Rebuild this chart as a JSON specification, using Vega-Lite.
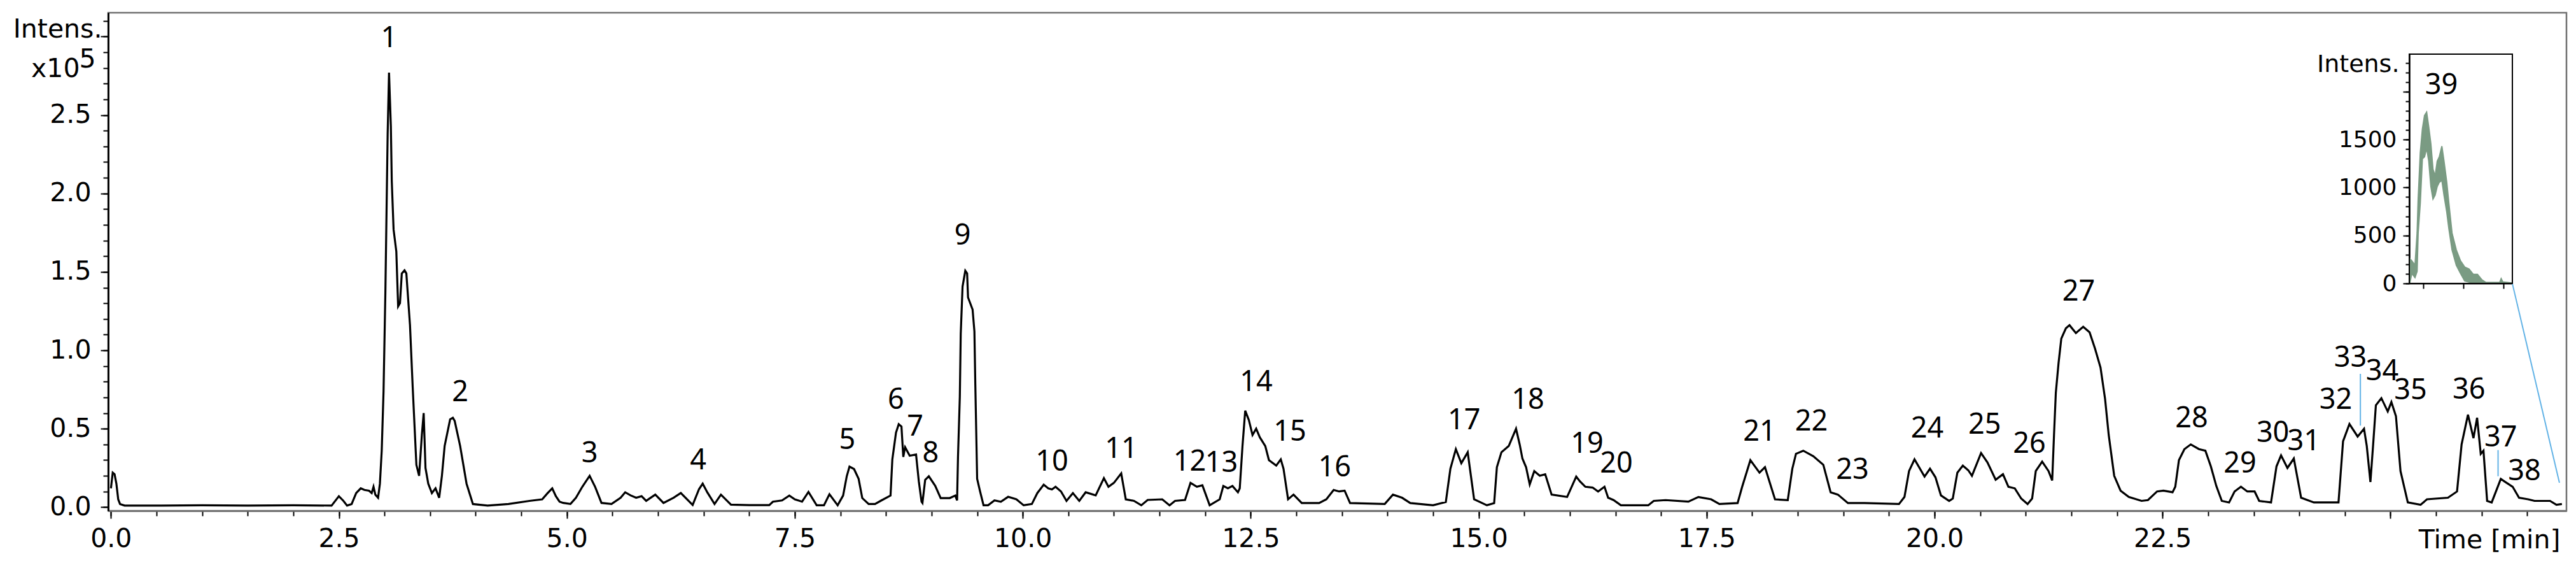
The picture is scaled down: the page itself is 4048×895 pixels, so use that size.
{
  "$schema": "https://vega.github.io/schema/vega-lite/v6.json",
  "width": 3863,
  "height": 782,
  "autosize": {"type": "none"},
  "padding": {"left": 170, "top": 20, "right": 15, "bottom": 93},
  "background": "white",
  "config": {"view": {"stroke": "#707070", "strokeWidth": 2.5}},
  "datasets": {
    "trace": [
      {"t":0.0,"v":0.12},{"t":0.02,"v":0.22},{"t":0.04,"v":0.21},{"t":0.06,"v":0.15},{"t":0.08,"v":0.05},{"t":0.1,"v":0.02},{"t":0.15,"v":0.01},{"t":0.5,"v":0.01},{"t":1.0,"v":0.012},{"t":1.5,"v":0.01},{"t":2.0,"v":0.012},{"t":2.42,"v":0.01},
      {"t":2.5,"v":0.07},{"t":2.55,"v":0.04},{"t":2.59,"v":0.01},{"t":2.64,"v":0.02},{"t":2.69,"v":0.09},{"t":2.74,"v":0.12},{"t":2.78,"v":0.11},{"t":2.83,"v":0.105},{"t":2.86,"v":0.09},{"t":2.88,"v":0.13},{"t":2.9,"v":0.08},{"t":2.93,"v":0.06},{"t":2.95,"v":0.15},{"t":2.97,"v":0.36},{"t":2.99,"v":0.74},{"t":3.01,"v":1.37},{"t":3.035,"v":2.38},{"t":3.05,"v":2.77},{"t":3.06,"v":2.6},{"t":3.07,"v":2.43},{"t":3.08,"v":2.08},{"t":3.1,"v":1.77},{"t":3.13,"v":1.63},{"t":3.15,"v":1.28},{"t":3.17,"v":1.3},{"t":3.19,"v":1.49},{"t":3.22,"v":1.51},{"t":3.24,"v":1.49},{"t":3.28,"v":1.16},{"t":3.31,"v":0.76},{"t":3.35,"v":0.27},{"t":3.38,"v":0.2},{"t":3.41,"v":0.46},{"t":3.43,"v":0.6},{"t":3.45,"v":0.25},{"t":3.48,"v":0.15},{"t":3.52,"v":0.09},{"t":3.56,"v":0.12},{"t":3.6,"v":0.06},{"t":3.63,"v":0.2},{"t":3.66,"v":0.39},{"t":3.72,"v":0.56},{"t":3.75,"v":0.57},{"t":3.77,"v":0.55},{"t":3.83,"v":0.39},{"t":3.9,"v":0.15},{"t":3.97,"v":0.02},{"t":4.13,"v":0.01},{"t":4.36,"v":0.02},{"t":4.59,"v":0.04},{"t":4.73,"v":0.05},{"t":4.79,"v":0.09},{"t":4.84,"v":0.12},{"t":4.88,"v":0.07},
      {"t":4.92,"v":0.035},{"t":4.96,"v":0.027},{"t":5.04,"v":0.02},{"t":5.1,"v":0.06},{"t":5.17,"v":0.13},{"t":5.25,"v":0.2},{"t":5.31,"v":0.13},{"t":5.38,"v":0.027},{"t":5.49,"v":0.02},{"t":5.59,"v":0.06},{"t":5.64,"v":0.095},{"t":5.7,"v":0.075},{"t":5.76,"v":0.06},{"t":5.82,"v":0.07},{"t":5.87,"v":0.04},{"t":5.97,"v":0.08},{"t":6.06,"v":0.027},{"t":6.17,"v":0.06},{"t":6.25,"v":0.09},{"t":6.38,"v":0.014},{"t":6.45,"v":0.115},{"t":6.49,"v":0.15},{"t":6.54,"v":0.095},{"t":6.62,"v":0.02},{"t":6.69,"v":0.08},{"t":6.8,"v":0.016},{"t":7.0,"v":0.013},{"t":7.22,"v":0.013},
      {"t":7.26,"v":0.035},{"t":7.36,"v":0.043},{"t":7.44,"v":0.074},{"t":7.5,"v":0.05},{"t":7.58,"v":0.035},{"t":7.65,"v":0.097},{"t":7.74,"v":0.012},{"t":7.82,"v":0.012},{"t":7.88,"v":0.082},{"t":7.97,"v":0.012},{"t":8.03,"v":0.074},{"t":8.07,"v":0.197},{"t":8.1,"v":0.259},{"t":8.15,"v":0.243},{"t":8.2,"v":0.181},{"t":8.24,"v":0.058},{"t":8.31,"v":0.02},{"t":8.38,"v":0.02},{"t":8.45,"v":0.043},{"t":8.55,"v":0.074},{"t":8.57,"v":0.305},{"t":8.61,"v":0.475},{"t":8.64,"v":0.529},{"t":8.67,"v":0.514},{"t":8.69,"v":0.32},{"t":8.71,"v":0.382},{"t":8.76,"v":0.328},{"t":8.83,"v":0.336},{"t":8.86,"v":0.166},{"t":8.89,"v":0.035},{"t":8.9,"v":0.027},{"t":8.93,"v":0.174},{"t":8.97,"v":0.197},{"t":9.04,"v":0.136},{"t":9.1,"v":0.058},{"t":9.2,"v":0.058},{"t":9.26,"v":0.074},{"t":9.28,"v":0.043},{"t":9.29,"v":0.32},{"t":9.31,"v":0.705},{"t":9.32,"v":1.106},{"t":9.34,"v":1.406},{"t":9.37,"v":1.507},{"t":9.39,"v":1.49},{"t":9.4,"v":1.337},{"t":9.45,"v":1.26},{"t":9.47,"v":1.12},{"t":9.48,"v":0.78},{"t":9.5,"v":0.181},{"t":9.53,"v":0.105},{"t":9.57,"v":0.012},{"t":9.62,"v":0.012},{"t":9.69,"v":0.043},{"t":9.76,"v":0.035},{"t":9.84,"v":0.066},{"t":9.93,"v":0.05},{"t":10.01,"v":0.012},{"t":10.1,"v":0.02},{"t":10.16,"v":0.09},{"t":10.23,"v":0.143},
      {"t":10.28,"v":0.12},{"t":10.32,"v":0.113},{"t":10.36,"v":0.13},{"t":10.42,"v":0.1},{"t":10.48,"v":0.04},{"t":10.55,"v":0.09},{"t":10.62,"v":0.04},{"t":10.69,"v":0.095},{"t":10.8,"v":0.075},{"t":10.89,"v":0.185},{"t":10.94,"v":0.13},{"t":11.0,"v":0.155},{"t":11.08,"v":0.215},{"t":11.13,"v":0.05},{"t":11.22,"v":0.04},{"t":11.3,"v":0.012},{"t":11.37,"v":0.046},{"t":11.53,"v":0.05},{"t":11.61,"v":0.012},{"t":11.67,"v":0.04},{"t":11.78,"v":0.046},{"t":11.84,"v":0.155},{"t":11.91,"v":0.13},{"t":11.97,"v":0.14},{"t":12.05,"v":0.012},{"t":12.16,"v":0.05},{"t":12.2,"v":0.135},{"t":12.25,"v":0.12},{"t":12.3,"v":0.135},{"t":12.36,"v":0.095},{"t":12.38,"v":0.12},{"t":12.41,"v":0.39},{"t":12.44,"v":0.615},{"t":12.48,"v":0.555},{"t":12.52,"v":0.46},{"t":12.56,"v":0.5},{"t":12.6,"v":0.445},{"t":12.66,"v":0.39},{"t":12.7,"v":0.3},{"t":12.78,"v":0.265},{"t":12.83,"v":0.305},{"t":12.86,"v":0.245},{"t":12.91,"v":0.05},{"t":12.97,"v":0.08},{"t":13.06,"v":0.026},{"t":13.25,"v":0.026},{"t":13.33,"v":0.05},{"t":13.41,"v":0.11},{"t":13.47,"v":0.1},{"t":13.53,"v":0.105},{"t":13.59,"v":0.026},{"t":13.97,"v":0.02},{"t":14.06,"v":0.08},{"t":14.16,"v":0.06},{"t":14.25,"v":0.026},{"t":14.5,"v":0.012},{"t":14.64,"v":0.033},{"t":14.69,"v":0.245},{"t":14.75,"v":0.37},{"t":14.81,"v":0.28},{"t":14.88,"v":0.35},{"t":14.95,"v":0.05},{"t":15.09,"v":0.012},{"t":15.17,"v":0.026},
      {"t":15.2,"v":0.255},{"t":15.25,"v":0.35},{"t":15.33,"v":0.39},{"t":15.41,"v":0.5},{"t":15.45,"v":0.4},{"t":15.48,"v":0.31},{"t":15.52,"v":0.255},{"t":15.56,"v":0.145},{"t":15.61,"v":0.23},{"t":15.67,"v":0.2},{"t":15.73,"v":0.21},{"t":15.8,"v":0.08},{"t":15.97,"v":0.065},{"t":16.02,"v":0.13},{"t":16.07,"v":0.195},{"t":16.11,"v":0.165},{"t":16.17,"v":0.13},{"t":16.25,"v":0.125},{"t":16.31,"v":0.1},{"t":16.38,"v":0.13},{"t":16.42,"v":0.06},{"t":16.48,"v":0.045},{"t":16.56,"v":0.012},{"t":16.86,"v":0.012},{"t":16.92,"v":0.04},{"t":17.05,"v":0.045},{"t":17.3,"v":0.035},{"t":17.41,"v":0.065},{"t":17.55,"v":0.05},{"t":17.64,"v":0.02},{"t":17.84,"v":0.026},{"t":17.89,"v":0.13},{"t":17.98,"v":0.3},{"t":18.08,"v":0.22},{"t":18.14,"v":0.255},{"t":18.25,"v":0.05},{"t":18.39,"v":0.045},{"t":18.44,"v":0.245},{"t":18.48,"v":0.34},{"t":18.56,"v":0.36},{"t":18.67,"v":0.325},{"t":18.78,"v":0.27},{"t":18.86,"v":0.095},{"t":18.94,"v":0.08},{"t":19.05,"v":0.026},{"t":19.23,"v":0.026},{"t":19.61,"v":0.02},{"t":19.67,"v":0.065},{"t":19.72,"v":0.23},{"t":19.78,"v":0.305},{"t":19.89,"v":0.195},{"t":19.95,"v":0.245},{"t":20.01,"v":0.19},{"t":20.07,"v":0.075},
      {"t":20.16,"v":0.04},{"t":20.2,"v":0.055},{"t":20.25,"v":0.22},{"t":20.31,"v":0.265},{"t":20.37,"v":0.235},{"t":20.41,"v":0.2},{"t":20.51,"v":0.345},{"t":20.58,"v":0.285},{"t":20.67,"v":0.175},{"t":20.75,"v":0.21},{"t":20.81,"v":0.13},{"t":20.88,"v":0.12},{"t":20.95,"v":0.055},{"t":21.02,"v":0.02},{"t":21.07,"v":0.055},{"t":21.11,"v":0.23},{"t":21.18,"v":0.29},{"t":21.25,"v":0.23},{"t":21.29,"v":0.17},{"t":21.31,"v":0.46},{"t":21.33,"v":0.73},{"t":21.36,"v":0.92},{"t":21.39,"v":1.075},{"t":21.44,"v":1.14},{"t":21.48,"v":1.16},{"t":21.55,"v":1.11},{"t":21.63,"v":1.15},{"t":21.7,"v":1.115},{"t":21.76,"v":1.01},{"t":21.82,"v":0.89},{"t":21.87,"v":0.69},{"t":21.91,"v":0.46},{"t":21.97,"v":0.2},{"t":22.04,"v":0.105},{"t":22.13,"v":0.065},{"t":22.27,"v":0.04},{"t":22.34,"v":0.045},{"t":22.44,"v":0.1},{"t":22.51,"v":0.105},{"t":22.61,"v":0.095},{"t":22.64,"v":0.13},{"t":22.68,"v":0.3},{"t":22.74,"v":0.37},{"t":22.81,"v":0.4},
      {"t":22.9,"v":0.37},{"t":22.97,"v":0.36},{"t":23.03,"v":0.26},{"t":23.09,"v":0.135},{"t":23.15,"v":0.04},{"t":23.23,"v":0.03},{"t":23.29,"v":0.1},{"t":23.36,"v":0.13},{"t":23.43,"v":0.1},{"t":23.51,"v":0.1},{"t":23.56,"v":0.04},{"t":23.69,"v":0.03},{"t":23.75,"v":0.26},{"t":23.8,"v":0.33},{"t":23.87,"v":0.25},{"t":23.94,"v":0.31},{"t":24.02,"v":0.06},{"t":24.16,"v":0.03},{"t":24.31,"v":0.03},{"t":24.43,"v":0.03},{"t":24.48,"v":0.42},{"t":24.55,"v":0.53},{"t":24.64,"v":0.45},{"t":24.71,"v":0.5},{"t":24.74,"v":0.39},{"t":24.78,"v":0.16},{"t":24.81,"v":0.4},{"t":24.84,"v":0.65},{"t":24.9,"v":0.695},{"t":24.97,"v":0.61},{"t":25.01,"v":0.67},{"t":25.06,"v":0.58},{"t":25.11,"v":0.23},{"t":25.19,"v":0.03},{"t":25.33,"v":0.015},{"t":25.4,"v":0.05},{"t":25.63,"v":0.06},{"t":25.73,"v":0.1},{"t":25.78,"v":0.4},{"t":25.85,"v":0.59},{"t":25.91,"v":0.44},{"t":25.95,"v":0.57},{"t":25.99,"v":0.34},{"t":26.02,"v":0.36},{"t":26.06,"v":0.04},{"t":26.11,"v":0.03},{"t":26.21,"v":0.18},{"t":26.26,"v":0.16},{"t":26.34,"v":0.13},{"t":26.41,"v":0.06},{"t":26.51,"v":0.05},{"t":26.58,"v":0.04},{"t":26.75,"v":0.04},{"t":26.82,"v":0.015},{"t":26.88,"v":0.02}
    ],
    "peaks": [
      {"t":3.05,"v":2.99,"label":"1"},{"t":3.83,"v":0.732,"label":"2"},{"t":5.25,"v":0.343,"label":"3"},{"t":6.44,"v":0.299,"label":"4"},{"t":8.075,"v":0.428,"label":"5"},{"t":8.61,"v":0.684,"label":"6"},{"t":8.82,"v":0.513,"label":"7"},{"t":8.99,"v":0.343,"label":"8"},{"t":9.34,"v":1.731,"label":"9"},{"t":10.32,"v":0.29,"label":"10"},{"t":11.08,"v":0.371,"label":"11"},{"t":11.83,"v":0.29,"label":"12"},{"t":12.18,"v":0.282,"label":"13"},{"t":12.56,"v":0.797,"label":"14"},{"t":12.93,"v":0.481,"label":"15"},{"t":13.42,"v":0.253,"label":"16"},{"t":14.84,"v":0.554,"label":"17"},{"t":15.54,"v":0.684,"label":"18"},{"t":16.19,"v":0.404,"label":"19"},{"t":16.51,"v":0.278,"label":"20"},{"t":18.08,"v":0.481,"label":"21"},{"t":18.65,"v":0.546,"label":"22"},{"t":19.1,"v":0.237,"label":"23"},{"t":19.92,"v":0.501,"label":"24"},{"t":20.55,"v":0.525,"label":"25"},{"t":21.04,"v":0.404,"label":"26"},{"t":21.58,"v":1.374,"label":"27"},{"t":22.82,"v":0.566,"label":"28"},{"t":23.35,"v":0.278,"label":"29"},{"t":23.71,"v":0.473,"label":"30"},{"t":24.05,"v":0.42,"label":"31"},{"t":24.4,"v":0.684,"label":"32"},{"t":24.56,"v":0.952,"label":"33"},{"t":24.91,"v":0.866,"label":"34"},{"t":25.22,"v":0.745,"label":"35"},{"t":25.86,"v":0.749,"label":"36"},{"t":26.21,"v":0.444,"label":"37"},{"t":26.47,"v":0.229,"label":"38"}
    ],
    "guides": [
      {"t":24.67,"v":0.85,"t2":24.67,"v2":0.52},
      {"t":26.18,"v":0.364,"t2":26.18,"v2":0.197},
      {"t":26.336,"v":1.427,"t2":26.853,"v2":0.156}
    ],
    "inset": [
      {"t":26.3657,"hi":260,"lo":0},{"t":26.371,"hi":235,"lo":105},{"t":26.3789,"hi":190,"lo":60},{"t":26.3842,"hi":525,"lo":125},{"t":26.3868,"hi":880,"lo":525},{"t":26.3921,"hi":1360,"lo":835},{"t":26.3974,"hi":1610,"lo":1300},{"t":26.4027,"hi":1750,"lo":1320},{"t":26.408,"hi":1785,"lo":1410},{"t":26.4133,"hi":1630,"lo":1275},{"t":26.4186,"hi":1455,"lo":1010},{"t":26.4239,"hi":1190,"lo":880},{"t":26.4292,"hi":1120,"lo":920},{"t":26.4345,"hi":1275,"lo":1010},{"t":26.4397,"hi":1320,"lo":1055},{"t":26.4461,"hi":1430,"lo":1075},{"t":26.4514,"hi":1275,"lo":920},{"t":26.4583,"hi":1055,"lo":745},{"t":26.4636,"hi":835,"lo":570},{"t":26.4715,"hi":525,"lo":350},{"t":26.4821,"hi":350,"lo":190},{"t":26.4927,"hi":235,"lo":105},{"t":26.5032,"hi":170,"lo":25},{"t":26.5138,"hi":150,"lo":15},{"t":26.5244,"hi":95,"lo":5},{"t":26.535,"hi":95,"lo":0},{"t":26.5456,"hi":40,"lo":0},{"t":26.5562,"hi":10,"lo":0},{"t":26.5906,"hi":10,"lo":0},{"t":26.5943,"hi":50,"lo":0},{"t":26.5985,"hi":15,"lo":0},{"t":26.6197,"hi":5,"lo":0}
    ],
    "insetpeak": [{"t":26.445,"i":2062,"label":"39"}]
  },
  "layer": [
    {
      "layer": [
        {
          "data": {"name": "trace"},
          "mark": {"type": "line", "color": "black", "strokeWidth": 3.2, "clip": true},
          "encoding": {
            "x": {
              "field": "t", "type": "quantitative",
              "scale": {"domain": [-0.03, 26.93], "nice": false, "zero": false},
              "axis": {
                "orient": "bottom",
                "values": [0,2.5,5,7.5,10,12.5,15,17.5,20,22.5,25],
                "labelExpr": "datum.value < 24 ? format(datum.value, '.1f') : ''",
                "tickSize": 12, "tickColor": "black", "tickWidth": 2,
                "domainColor": "#707070", "domainWidth": 2.5,
                "grid": false, "labelOverlap": false, "labelFlush": false, "labelBound": false,
                "labelFont": "DejaVu Sans", "labelFontSize": 41, "labelColor": "black", "labelPadding": 12,
                "title": "Time [min]", "titleX": 3853, "titleY": 58, "titleAlign": "right", "titleBaseline": "alphabetic",
                "titleFont": "DejaVu Sans", "titleFontSize": 41, "titleFontWeight": "normal", "titleColor": "black"
              }
            },
            "y": {
              "field": "v", "type": "quantitative",
              "scale": {"domain": [-0.023, 3.152], "nice": false, "zero": false},
              "axis": {
                "orient": "left",
                "values": [0,0.5,1,1.5,2,2.5,3],
                "labelExpr": "datum.value < 2.9 ? format(datum.value, '.1f') : ''",
                "tickSize": 12, "tickColor": "black", "tickWidth": 2,
                "domainColor": "black", "domainWidth": 2.5,
                "grid": false, "labelOverlap": false, "labelFlush": false, "labelBound": false,
                "labelFont": "DejaVu Sans", "labelFontSize": 41, "labelColor": "black", "labelPadding": 15,
                "title": "Intens.", "titleAngle": 0, "titleAlign": "right", "titleBaseline": "middle",
                "titleX": -10, "titleY": 26,
                "titleFont": "DejaVu Sans", "titleFontSize": 41, "titleFontWeight": "normal", "titleColor": "black"
              }
            }
          }
        },
        {
          "data": {"name": "guides"},
          "mark": {"type": "rule", "color": "#63b3e6", "strokeWidth": 2},
          "encoding": {
            "x": {
              "field": "t", "type": "quantitative",
              "axis": {
                "orient": "bottom",
                "values": [0,0.5,1,1.5,2,2.5,3,3.5,4,4.5,5,5.5,6,6.5,7,7.5,8,8.5,9,9.5,10,10.5,11,11.5,12,12.5,13,13.5,14,14.5,15,15.5,16,16.5,17,17.5,18,18.5,19,19.5,20,20.5,21,21.5,22,22.5,23,23.5,24,24.5,25,25.5,26,26.5],
                "labels": false, "tickSize": 8, "tickColor": "black", "tickWidth": 2,
                "domainColor": "#707070", "domainWidth": 2.5, "grid": false, "title": null
              }
            },
            "y": {
              "field": "v", "type": "quantitative",
              "axis": {
                "orient": "left",
                "values": [0,0.1,0.2,0.3,0.4,0.5,0.6,0.7,0.8,0.9,1,1.1,1.2,1.3,1.4,1.5,1.6,1.7,1.8,1.9,2,2.1,2.2,2.3,2.4,2.5,2.6,2.7,2.8,2.9,3,3.1],
                "labels": false, "tickSize": 8, "tickColor": "black", "tickWidth": 2,
                "domainColor": "black", "domainWidth": 2.5, "grid": false,
                "title": "x10", "titleAngle": 0, "titleAlign": "right", "titleBaseline": "middle",
                "titleX": -45, "titleY": 88,
                "titleFont": "DejaVu Sans", "titleFontSize": 41, "titleFontWeight": "normal", "titleColor": "black"
              }
            },
            "x2": {"field": "t2"},
            "y2": {"field": "v2"}
          }
        },
        {
          "data": {"name": "peaks"},
          "mark": {"type": "text", "font": "Noto Sans", "fontSize": 45, "color": "black", "align": "center", "baseline": "middle"},
          "encoding": {
            "x": {"field": "t", "type": "quantitative", "axis": null},
            "y": {
              "field": "v", "type": "quantitative",
              "axis": {
                "orient": "left", "domain": false, "ticks": false, "labels": false, "grid": false,
                "title": "5", "titleAngle": 0, "titleAlign": "left", "titleBaseline": "middle",
                "titleX": -46, "titleY": 73,
                "titleFont": "DejaVu Sans", "titleFontSize": 41, "titleFontWeight": "normal", "titleColor": "black"
              }
            },
            "text": {"field": "label"}
          }
        }
      ],
      "resolve": {"axis": {"x": "independent", "y": "independent"}}
    },
    {
      "layer": [
        {
          "data": {"name": "inset"},
          "mark": {"type": "area", "color": "#7a9b83", "stroke": "#7a9b83", "strokeWidth": 2, "opacity": 1},
          "encoding": {
            "x": {
              "field": "t", "type": "quantitative",
              "scale": {"domain": [26.3646, 26.6223], "range": [3616, 3778], "nice": false, "zero": false},
              "axis": {
                "orient": "bottom", "offset": -357,
                "values": [26.4, 26.5, 26.6], "labels": false, "tickSize": 8, "tickColor": "black", "tickWidth": 2,
                "domainColor": "black", "domainWidth": 2, "grid": false, "title": null
              }
            },
            "y": {
              "field": "hi", "type": "quantitative",
              "scale": {"domain": [0, 2390], "range": [425, 65], "nice": false, "zero": false},
              "axis": {
                "orient": "left", "offset": -3616,
                "values": [0, 500, 1000, 1500, 2000],
                "labelExpr": "datum.value < 1900 ? format(datum.value, 'd') : ''",
                "tickSize": 10, "tickColor": "black", "tickWidth": 2, "domainColor": "black", "domainWidth": 2,
                "grid": false, "labelOverlap": false, "labelFlush": false, "labelBound": false,
                "labelFont": "DejaVu Sans", "labelFontSize": 36, "labelColor": "black", "labelPadding": 10,
                "title": "Intens.", "titleAngle": 0, "titleAlign": "right", "titleBaseline": "middle",
                "titleX": -16, "titleY": 81,
                "titleFont": "DejaVu Sans", "titleFontSize": 38, "titleFontWeight": "normal", "titleColor": "black"
              }
            },
            "y2": {"field": "lo"}
          }
        },
        {
          "data": {"values": [{}]},
          "mark": {"type": "rect", "fillOpacity": 0, "stroke": "black", "strokeWidth": 2},
          "encoding": {
            "x": {"datum": 26.3646, "type": "quantitative", "axis": null},
            "x2": {"datum": 26.6223},
            "y": {
              "datum": 0, "type": "quantitative",
              "axis": {
                "orient": "left", "offset": -3616,
                "values": [0,100,200,300,400,500,600,700,800,900,1000,1100,1200,1300,1400,1500,1600,1700,1800,1900,2000,2100,2200,2300],
                "labels": false, "tickSize": 6, "tickColor": "black", "tickWidth": 2,
                "domainColor": "black", "domainWidth": 2, "grid": false, "title": null
              }
            },
            "y2": {"datum": 2390}
          }
        },
        {
          "data": {"name": "insetpeak"},
          "mark": {"type": "text", "font": "Noto Sans", "fontSize": 45, "color": "black", "align": "center", "baseline": "middle"},
          "encoding": {
            "x": {"field": "t", "type": "quantitative", "axis": null},
            "y": {"field": "i", "type": "quantitative", "axis": null},
            "text": {"field": "label"}
          }
        }
      ],
      "resolve": {"axis": {"x": "independent", "y": "independent"}}
    }
  ],
  "resolve": {"scale": {"x": "independent", "y": "independent"}, "axis": {"x": "independent", "y": "independent"}}
}
